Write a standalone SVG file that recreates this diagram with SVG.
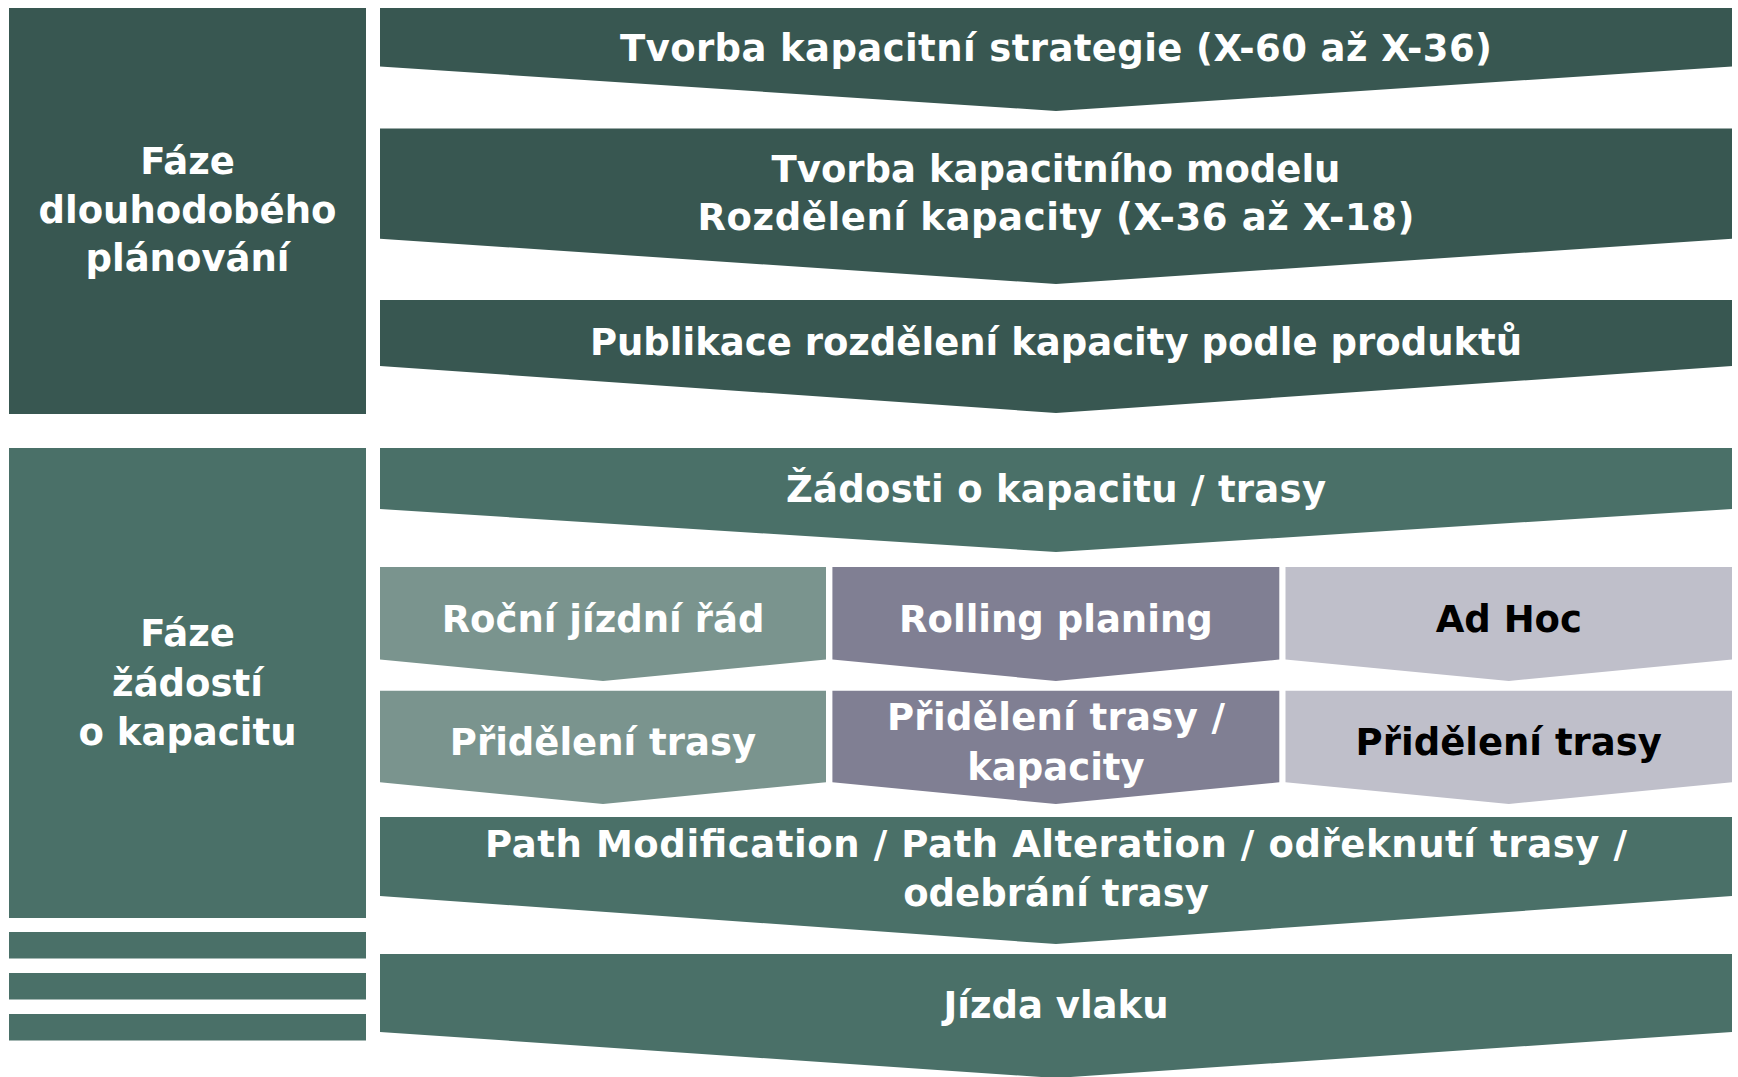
<svg xmlns="http://www.w3.org/2000/svg" width="1738" height="1077" viewBox="0 0 1738 1077">
<style>
text{font-family:"DejaVu Sans","Liberation Sans",sans-serif;font-weight:bold;font-size:37px;text-anchor:middle;fill:#ffffff}
.dk{fill:#385751}
.md{fill:#4A7068}
.c1{fill:#7A948E}
.c2{fill:#807F93}
.c3{fill:#BFBFCA}
text.blk{fill:#000000}
</style>
<rect width="1738" height="1077" fill="#ffffff"/>
<g id="phase-long">
<rect class="dk" x="9" y="8" width="357" height="406"/>
<text x="187.5" y="174">Fáze</text>
<text x="187.5" y="222.5">dlouhodobého</text>
<text x="187.5" y="271">plánování</text>
</g>
<g id="phase-requests">
<rect class="md" x="9" y="448" width="357" height="470"/>
<text x="187.5" y="646">Fáze</text>
<text x="187.5" y="696">žádostí</text>
<text x="187.5" y="745">o kapacitu</text>
</g>
<g id="bars">
<rect class="md" x="9" y="932" width="357" height="26.5"/>
<rect class="md" x="9" y="973" width="357" height="26.5"/>
<rect class="md" x="9" y="1014" width="357" height="26.5"/>
</g>
<g id="strategy">
<polygon class="dk" points="380,8 1732,8 1732,66.5 1056,111 380,66.5"/>
<text x="1056" y="61" textLength="872">Tvorba kapacitní strategie (X-60 až X-36)</text>
</g>
<g id="model">
<polygon class="dk" points="380,128.5 1732,128.5 1732,238.7 1056,284 380,238.7"/>
<text x="1056" y="182">Tvorba kapacitního modelu</text>
<text x="1056" y="230" textLength="717">Rozdělení kapacity (X-36 až X-18)</text>
</g>
<g id="publication">
<polygon class="dk" points="380,300 1732,300 1732,366 1056,413 380,366"/>
<text x="1056" y="355">Publikace rozdělení kapacity podle produktů</text>
</g>
<g id="requests">
<polygon class="md" points="380,448 1732,448 1732,509 1056,552 380,509"/>
<text x="1056" y="502" textLength="540">Žádosti o kapacitu / trasy</text>
</g>
<g id="annual">
<polygon class="c1" points="380,567 826,567 826,659.5 603,681 380,659.5"/>
<text x="603" y="632">Roční jízdní řád</text>
</g>
<g id="rolling">
<polygon class="c2" points="832.4,567 1279.3,567 1279.3,659.5 1055.9,681 832.4,659.5"/>
<text x="1055.9" y="632">Rolling planing</text>
</g>
<g id="adhoc">
<polygon class="c3" points="1285.5,567 1732,567 1732,659.5 1508.8,681 1285.5,659.5"/>
<text class="blk" x="1508.8" y="632">Ad Hoc</text>
</g>
<g id="alloc-annual">
<polygon class="c1" points="380,690.7 826,690.7 826,782.3 603,804 380,782.3"/>
<text x="603" y="755">Přidělení trasy</text>
</g>
<g id="alloc-rolling">
<polygon class="c2" points="832.4,690.7 1279.3,690.7 1279.3,782.3 1055.9,804 832.4,782.3"/>
<text x="1055.9" y="730" textLength="338">Přidělení trasy /</text>
<text x="1055.9" y="780">kapacity</text>
</g>
<g id="alloc-adhoc">
<polygon class="c3" points="1285.5,690.7 1732,690.7 1732,782.3 1508.8,804 1285.5,782.3"/>
<text class="blk" x="1508.8" y="755">Přidělení trasy</text>
</g>
<g id="modification">
<polygon class="md" points="380,817 1732,817 1732,896 1056,944 380,896"/>
<text x="1056" y="857" textLength="1142">Path Modification / Path Alteration / odřeknutí trasy /</text>
<text x="1056" y="906">odebrání trasy</text>
</g>
<g id="train-run">
<polygon class="md" points="380,954 1732,954 1732,1032 1056,1078 380,1032"/>
<text x="1056" y="1018">Jízda vlaku</text>
</g>
</svg>
